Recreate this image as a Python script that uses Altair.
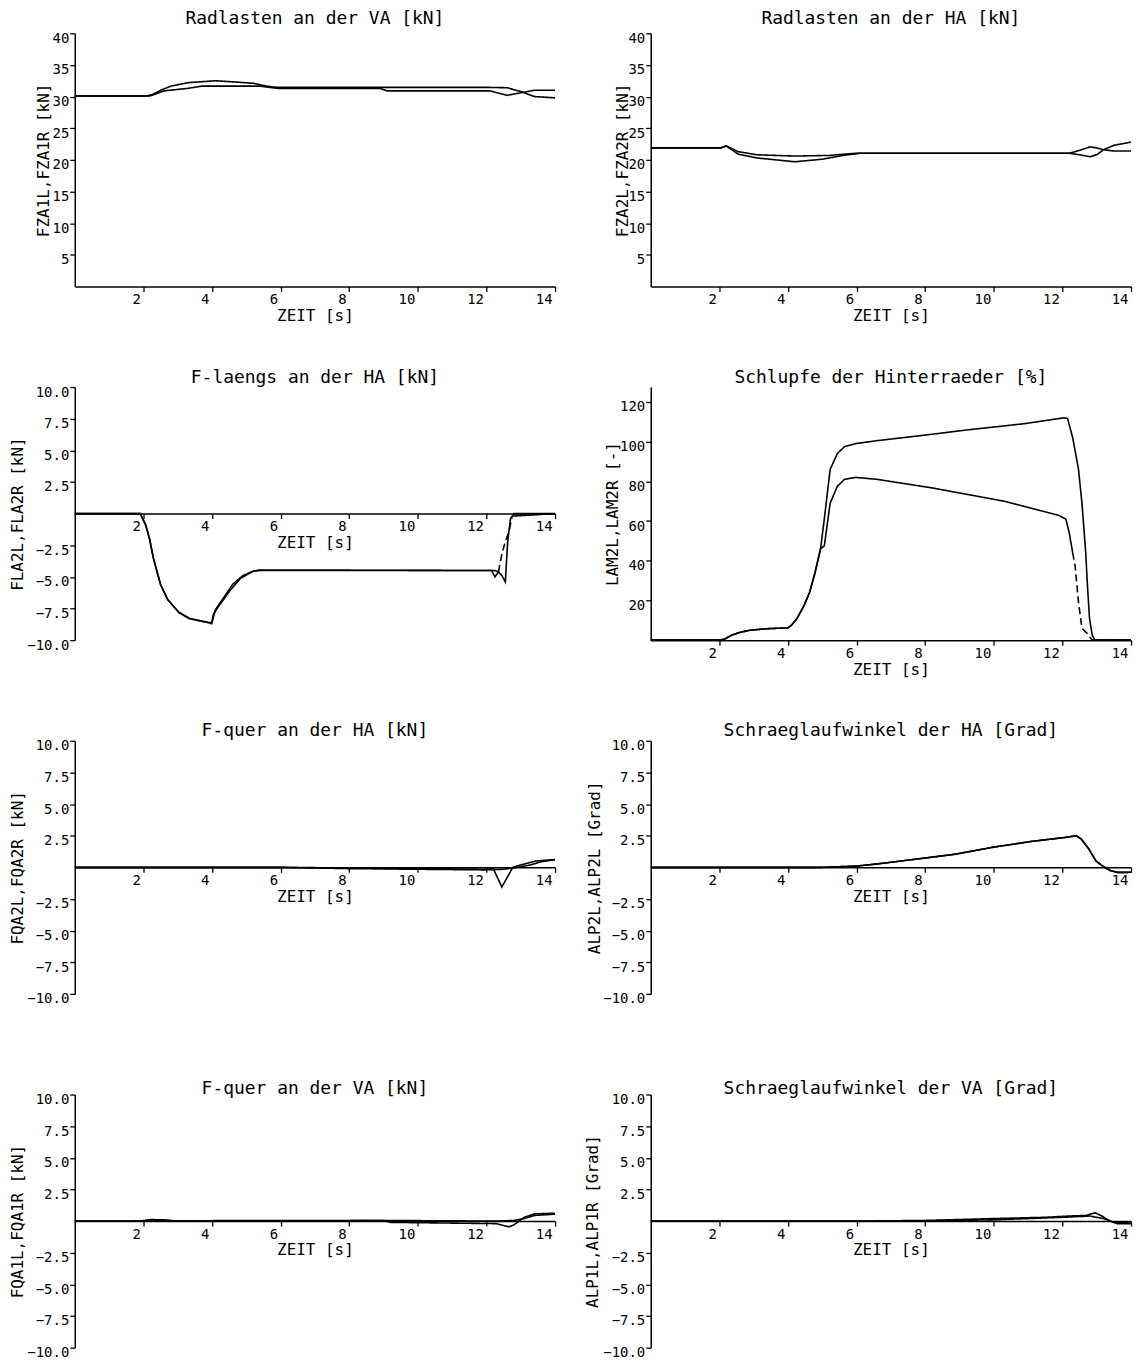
import altair as alt
import pandas as pd

W, H = 482, 254
FONT = "DejaVu Sans Mono"

X_TICKS = [2, 4, 6, 8, 10, 12, 14]
Y_TICKS_LOAD = [5, 10, 15, 20, 25, 30, 35, 40]
Y_TICKS_FORCE = [-10, -7.5, -5, -2.5, 2.5, 5, 7.5, 10]
Y_TICKS_SLIP = [20, 40, 60, 80, 100, 120]

# Panel 1: Radlasten an der VA
T_FZA1L = [0, 2.1, 2.3, 2.5, 2.8, 3.3, 4.1, 4.7, 5.2, 5.6, 5.9, 12.1, 12.6, 13.0, 13.4, 14.0]
V_FZA1L = [30.1, 30.1, 30.4, 31.0, 31.65, 32.2, 32.5, 32.3, 32.1, 31.65, 31.45, 31.45, 31.4, 30.8, 30.0, 29.8]
T_FZA1R = [0, 2.2, 2.6, 3.3, 3.7, 5.4, 5.9, 8.9, 9.1, 12.1, 12.6, 13.0, 13.4, 14.0]
V_FZA1R = [30.1, 30.1, 30.9, 31.3, 31.65, 31.65, 31.3, 31.3, 30.9, 30.9, 30.2, 30.6, 31.0, 31.0]

# Panel 2: Radlasten an der HA
T_FZA2L = [0, 2.05, 2.2, 2.55, 3.1, 4.2, 5.0, 5.6, 6.1, 12.2, 12.5, 12.8, 13.0, 13.2, 13.5, 14.0]
V_FZA2L = [21.9, 21.9, 22.2, 20.9, 20.3, 19.7, 20.1, 20.7, 21.05, 21.05, 21.5, 22.05, 21.9, 21.6, 21.4, 21.4]
T_FZA2R = [0, 2.05, 2.2, 2.55, 3.1, 4.2, 5.2, 6.0, 12.2, 12.5, 12.8, 13.0, 13.2, 13.5, 14.0]
V_FZA2R = [21.9, 21.9, 22.2, 21.3, 20.8, 20.6, 20.7, 21.05, 21.05, 20.8, 20.5, 20.8, 21.6, 22.3, 22.8]

# Panel 3: F-laengs an der HA
T_FLA2L = [0, 1.91, 2.07, 2.18, 2.29, 2.5, 2.71, 3.03, 3.35, 3.88, 3.99, 4.04, 4.2, 4.52, 4.84, 5.16, 5.37,
           12.15, 12.25, 12.35, 12.45, 12.55, 12.62, 12.7, 12.8, 14.0]
V_FLA2L = [0, 0, -0.94, -2.0, -3.5, -5.6, -6.8, -7.8, -8.3, -8.6, -8.7, -7.95, -7.3, -6.1, -5.1, -4.6, -4.45,
           -4.5, -5.0, -4.6, -4.9, -5.4, -2.2, -0.4, 0, 0]
T_FLA2R = [0, 1.91, 2.07, 2.18, 2.29, 2.5, 2.71, 3.03, 3.35, 3.88, 4.0, 4.1, 4.3, 4.6, 4.9, 5.2, 5.4,
           12.25, 12.35]
V_FLA2R = [0, 0, -0.9, -2.0, -3.5, -5.6, -6.8, -7.8, -8.3, -8.6, -8.6, -7.6, -6.8, -5.6, -4.9, -4.55, -4.5,
           -4.5, -4.6]
T_FLA2R_END = [12.35, 12.45, 12.55, 12.65, 12.75]
V_FLA2R_END = [-4.6, -3.2, -2.2, -1.5, -0.2]
T_FLA2R_TAIL = [12.75, 14.0]
V_FLA2R_TAIL = [-0.2, 0]

# Panel 4: Schlupfe der Hinterraeder
T_LAM2L = [0, 2.0, 2.15, 2.36, 2.57, 2.89, 3.42, 4.0, 4.1, 4.26, 4.47, 4.63, 4.79, 4.95,
           5.06, 5.23, 5.44, 5.65, 5.97, 6.6, 8.0, 9.27, 10.87, 12.04, 12.15, 12.3, 12.47, 12.57,
           12.68, 12.73, 12.79, 12.87, 12.95, 14.0]
V_LAM2L = [0, 0, 0.5, 2.5, 3.8, 5.0, 5.8, 6.2, 7.5, 10.8, 17.5, 24, 34, 46,
           61, 86, 94, 97.5, 99, 100.5, 103.3, 106, 109, 112, 111.7, 102, 86, 69,
           44, 27.5, 11, 2.5, 0, 0]
T_LAM2R = [0, 2.0, 2.15, 2.36, 2.57, 2.89, 3.42, 4.0, 4.1, 4.26, 4.47, 4.63, 4.79, 4.95,
           5.06, 5.23, 5.44, 5.65, 5.97, 6.6, 8.2, 10.3, 11.9, 12.1, 12.2, 12.3]
V_LAM2R = [0, 0, 0.5, 2.5, 3.8, 5.0, 5.8, 6.2, 7.5, 10.8, 17.5, 24, 34, 46,
           47.5, 69, 77.5, 81, 82, 81, 76.7, 70, 62.8, 61, 54, 44]
T_LAM2R_END = [12.3, 12.37, 12.47, 12.57, 12.73, 12.84]
V_LAM2R_END = [44, 37.5, 19, 6, 3.3, 0.5]
T_LAM2R_TAIL = [12.84, 12.9, 14.0]
V_LAM2R_TAIL = [0.5, 0, 0]

# Panel 5: F-quer an der HA
T_FQA2L = [0, 6, 8, 10, 12.0, 12.2, 12.45, 12.77, 13.0, 13.45, 14.0]
V_FQA2L = [0, 0, -0.05, -0.1, -0.15, -0.1, -1.55, 0, 0.2, 0.5, 0.62]
T_FQA2R = [0, 6, 8, 10, 12.0, 12.5, 12.9, 13.3, 13.6, 14.0]
V_FQA2R = [0, 0, -0.1, -0.15, -0.2, -0.15, 0, 0.2, 0.45, 0.6]

# Panel 6: Schraeglaufwinkel der HA
T_ALP2L = [0, 5.0, 6.0, 6.7, 8.0, 8.9, 10.0, 11.1, 12.1, 12.4, 12.55, 12.77, 12.98, 13.2, 13.4, 13.6, 13.9, 14.0]
V_ALP2L = [0, 0, 0.1, 0.3, 0.74, 1.05, 1.6, 2.05, 2.37, 2.5, 2.24, 1.45, 0.5, 0.05, -0.26, -0.4, -0.4, -0.38]

# Panel 7: F-quer an der VA
T_FQA1L = [0, 1.9, 2.2, 2.6, 3.0, 6.0, 9.0, 9.2, 12.3, 12.65, 12.8, 13.1, 13.4, 14.0]
V_FQA1L = [0, 0, 0.12, 0.1, 0, 0, 0.05, -0.1, -0.2, -0.45, -0.3, 0.3, 0.57, 0.62]
T_FQA1R = [0, 6.0, 9.0, 12.3, 12.8, 13.1, 13.4, 14.0]
V_FQA1R = [0, 0.05, 0.05, 0, 0.05, 0.2, 0.45, 0.55]

# Panel 8: Schraeglaufwinkel der VA
T_ALP1L = [0, 6.0, 8.0, 10.0, 11.5, 12.2, 12.7, 12.95, 13.15, 13.4, 13.6, 14.0]
V_ALP1L = [0, 0, 0.05, 0.2, 0.3, 0.4, 0.45, 0.66, 0.4, 0, -0.2, -0.2]
T_ALP1R = [0, 6.0, 8.0, 10.0, 12.0, 12.8, 13.2, 13.5, 14.0]
V_ALP1R = [0, 0, 0.02, 0.1, 0.3, 0.4, 0.2, -0.1, -0.15]


def panel(title, ytitle, series, ydomain, yticks, yfmt, ytitle_x, title_offset):
    rows = []
    for name, style, ts, vs in series:
        for t, v in zip(ts, vs):
            rows.append({"t": t, "v": v, "s": name, "d": style})
    df = pd.DataFrame(rows)
    y0, y1 = ydomain
    xoff = -H * (0 - y0) / (y1 - y0)
    xaxis = alt.Axis(
        values=X_TICKS, title="ZEIT [s]", offset=xoff, grid=False,
        tickSize=5, labelPadding=1, labelAlign="right", labelBaseline="top",
        labelOffset=-3, labelFlush=False, labelOverlap=False,
        titleX=W / 2, titleY=29, titleAlign="center", titleBaseline="middle",
    )
    yaxis = alt.Axis(
        values=yticks, title=ytitle, format=yfmt, grid=False,
        tickSize=5, labelPadding=1, labelBaseline="middle", labelOffset=5,
        labelFlush=False, labelOverlap=False,
        titleX=ytitle_x, titleY=H / 2, titleAngle=270, titleAlign="center",
        titleBaseline="middle",
    )
    return (
        alt.Chart(df)
        .mark_line(color="black", strokeWidth=1.6)
        .encode(
            x=alt.X("t:Q", scale=alt.Scale(domain=[0, 14], nice=False, zero=False), axis=xaxis),
            y=alt.Y("v:Q", scale=alt.Scale(domain=[y0, y1], nice=False, zero=False), axis=yaxis),
            detail="s:N",
            strokeDash=alt.StrokeDash(
                "d:N", scale=alt.Scale(domain=["solid", "dash"], range=[[1, 0], [7, 4]]), legend=None
            ),
        )
        .properties(
            width=W, height=H,
            title=alt.TitleParams(title, font=FONT, fontSize=18, fontWeight="normal",
                                  color="black", anchor="middle", offset=title_offset),
        )
    )


p1 = panel("Radlasten an der VA [kN]", "FZA1L,FZA1R [kN]",
           [("L", "solid", T_FZA1L, V_FZA1L), ("R", "solid", T_FZA1R, V_FZA1R)],
           (0, 40), Y_TICKS_LOAD, "d", -31, 3)
p2 = panel("Radlasten an der HA [kN]", "FZA2L,FZA2R [kN]",
           [("L", "solid", T_FZA2L, V_FZA2L), ("R", "solid", T_FZA2R, V_FZA2R)],
           (0, 40), Y_TICKS_LOAD, "d", -28, 3)
p3 = panel("F-laengs an der HA [kN]", "FLA2L,FLA2R [kN]",
           [("L", "solid", T_FLA2L, V_FLA2L), ("R", "solid", T_FLA2R, V_FLA2R),
            ("R2", "dash", T_FLA2R_END, V_FLA2R_END), ("R3", "solid", T_FLA2R_TAIL, V_FLA2R_TAIL)],
           (-10, 10), Y_TICKS_FORCE, ".1f", -57, -2)
p4 = panel("Schlupfe der Hinterraeder [%]", "LAM2L,LAM2R [-]",
           [("L", "solid", T_LAM2L, V_LAM2L), ("R", "solid", T_LAM2R, V_LAM2R),
            ("R2", "dash", T_LAM2R_END, V_LAM2R_END), ("R3", "solid", T_LAM2R_TAIL, V_LAM2R_TAIL)],
           (0, 127.5), Y_TICKS_SLIP, "d", -38, 0)
p5 = panel("F-quer an der HA  [kN]", "FQA2L,FQA2R [kN]",
           [("L", "solid", T_FQA2L, V_FQA2L), ("R", "solid", T_FQA2R, V_FQA2R)],
           (-10, 10), Y_TICKS_FORCE, ".1f", -57, -1)
p6 = panel("Schraeglaufwinkel der HA [Grad]", "ALP2L,ALP2L [Grad]",
           [("L", "solid", T_ALP2L, V_ALP2L), ("R", "solid", T_ALP2L, V_ALP2L)],
           (-10, 10), Y_TICKS_FORCE, ".1f", -56, -1)
p7 = panel("F-quer an der VA  [kN]", "FQA1L,FQA1R [kN]",
           [("L", "solid", T_FQA1L, V_FQA1L), ("R", "solid", T_FQA1R, V_FQA1R)],
           (-10, 10), Y_TICKS_FORCE, ".1f", -57, -5)
p8 = panel("Schraeglaufwinkel der VA  [Grad]", "ALP1L,ALP1R [Grad]",
           [("L", "solid", T_ALP1L, V_ALP1L), ("R", "solid", T_ALP1R, V_ALP1R)],
           (-10, 10), Y_TICKS_FORCE, ".1f", -58, -5)

chart = (
    alt.concat(p1, p2, p3, p4, p5, p6, p7, p8, columns=2,
               spacing={"row": 101, "column": 96}, bounds="flush")
    .properties(padding={"left": 2, "top": 0, "right": 0, "bottom": 0}, background="white")
    .configure_view(stroke=None)
    .configure_axis(
        domainColor="black", domainWidth=1.5, tickColor="black", tickWidth=1.3,
        labelFont=FONT, labelFontSize=14, labelColor="black",
        titleFont=FONT, titleFontSize=16, titleFontWeight="normal", titleColor="black",
    )
)

chart.save("out.html", embed_options={"renderer": "svg", "actions": False})
